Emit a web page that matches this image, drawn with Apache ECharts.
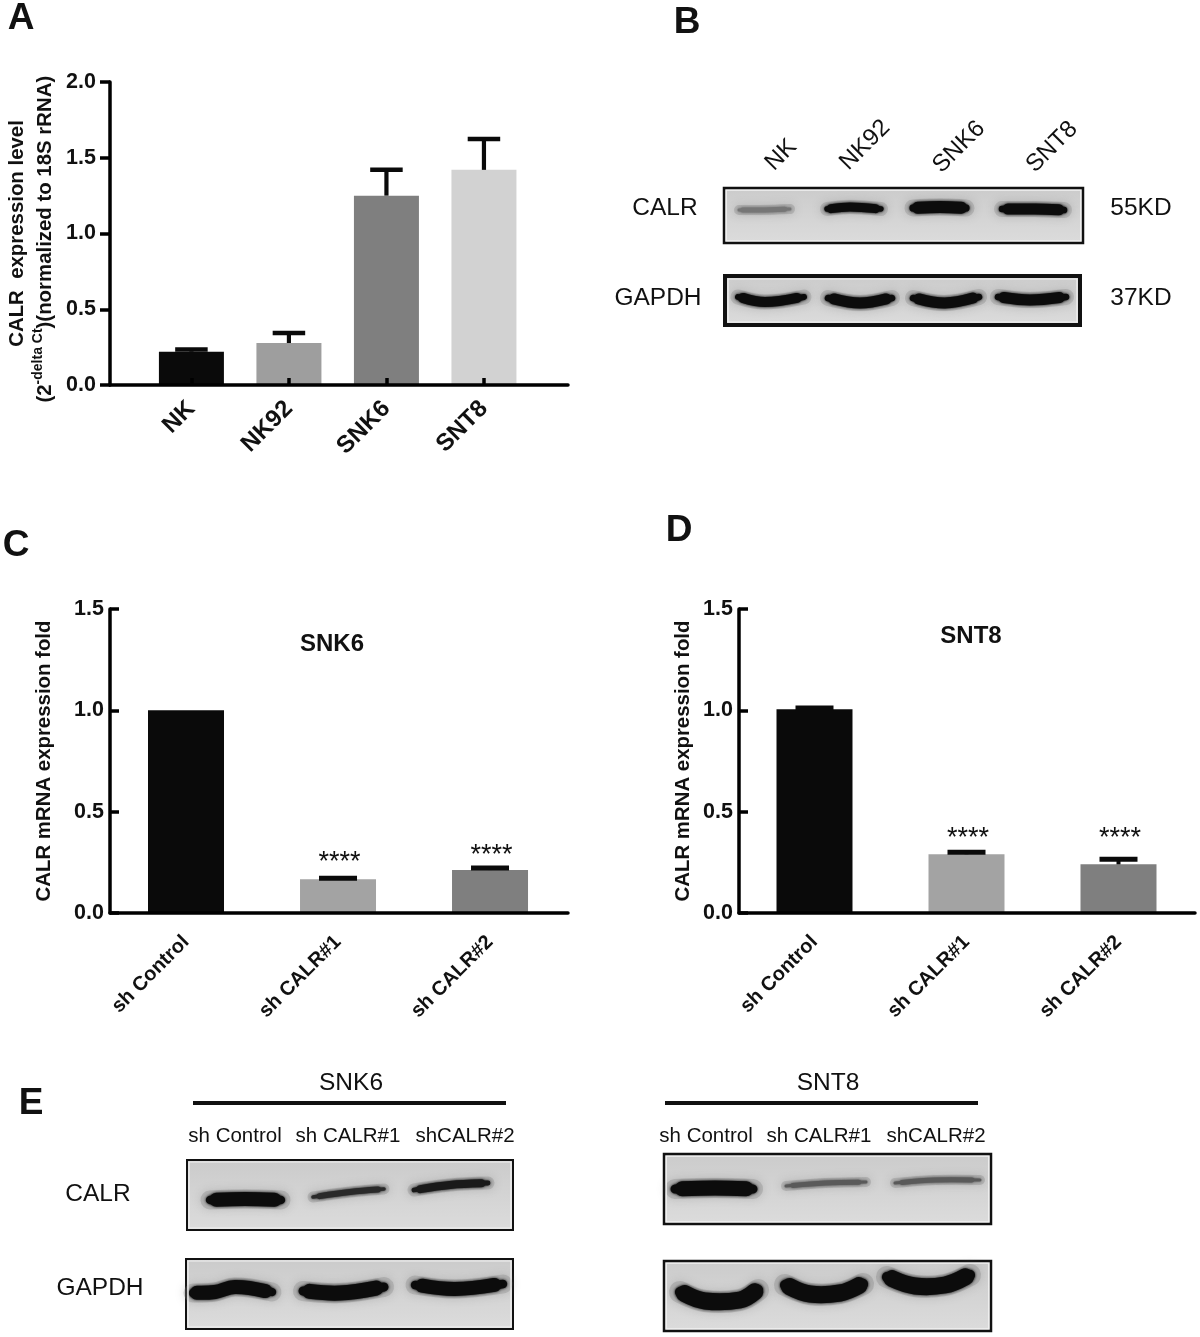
<!DOCTYPE html>
<html><head><meta charset="utf-8">
<style>html,body{margin:0;padding:0;background:#fff}#c{width:1200px;height:1337px}</style>
<script src="https://cdn.jsdelivr.net/npm/echarts@6/dist/echarts.min.js"></script>
</head><body><div id="c"></div>
<script>
// ---- data ----
const categoriesA = ['NK','NK92','SNK6','SNT8'];
const valuesA = [0.22,0.277,1.25,1.42];
const errTopA = [0.235,0.343,1.42,1.624];
const yTicksA = {min:0,max:2,interval:0.5};

const categoriesCD = ['sh Control','sh CALR#1','sh CALR#2'];
const valuesC = [1.0,0.167,0.212];
const errTopC = [1.0,0.172,0.222];
const starsC = ['','****','****'];
const starLevelC = [0,0.278,0.312];
const valuesD = [1.005,0.29,0.24];
const errTopD = [1.012,0.3,0.265];
const starsD = ['','****','****'];
const starLevelD = [0,0.398,0.398];
const yTicksCD = {min:0,max:1.5,interval:0.5};

// ---- styles ----
const FONT = '"Liberation Sans", Arial, sans-serif';
const barColorsA = ['#0a0a0a','#9e9e9e','#7f7f7f','#d2d2d2'];
const barColorsCD = ['#0a0a0a','#a3a3a3','#7f7f7f'];

// ---- panels ----
const grids = [
  {left:110,top:82,width:458,height:303},
  {left:110,top:609,width:458,height:304},
  {left:739,top:609,width:456,height:304}
];
const xDomains = [
  {min:0.165,max:4.862},
  {min:0.5,max:3.513},
  {min:0.5033,max:3.5033}
];

function yAxis(idx,t,name,nameGap,inside,margin){
  return {type:'value',gridIndex:idx,min:t.min,max:t.max,interval:t.interval,
    splitLine:{show:false},
    axisLine:{show:true,lineStyle:{color:'#000',width:3.5}},
    axisTick:{show:true,inside:inside,length:inside?9:10,lineStyle:{color:'#000',width:3.5}},
    axisLabel:{color:'#111',fontFamily:FONT,fontWeight:'bold',fontSize:21.5,margin:margin,
      formatter:v=>v.toFixed(1)},
    name:name,nameLocation:'middle',nameRotate:90,nameGap:nameGap,
    nameTextStyle:{color:'#111',fontFamily:FONT,fontWeight:'bold',fontSize:20.4,lineHeight:28,
      rich:{
        a:{fontFamily:FONT,fontWeight:'bold',fontSize:20.4,color:'#111',lineHeight:28},
        sup:{fontFamily:FONT,fontWeight:'bold',fontSize:14,color:'#111',verticalAlign:'top',lineHeight:28}
      }}
  };
}
function xAxis(idx,dom,cats,fs,margin,tick){
  const vals = cats.map((c,i)=>i+1);
  return {type:'value',gridIndex:idx,min:dom.min,max:dom.max,z:5,
    splitLine:{show:false},
    axisLine:{show:true,onZero:false,lineStyle:{color:'#000',width:3.5}},
    axisTick:{show:tick,inside:true,length:7,customValues:vals,lineStyle:{color:'#000',width:3.5}},
    axisLabel:{customValues:vals,rotate:45,margin:margin,color:'#111',fontFamily:FONT,fontWeight:'bold',fontSize:fs,
      formatter:v=>cats[Math.round(v)-1]||''}
  };
}
function barSeries(idx,vals,colors,width){
  return {type:'bar',xAxisIndex:idx,yAxisIndex:idx,barWidth:width,z:2,silent:true,
    data:vals.map((v,i)=>[i+1,v]),
    itemStyle:{color:p=>colors[p.dataIndex]}};
}
function errSeries(idx,tops,vals,capW,capH,stemW){
  return {type:'custom',xAxisIndex:idx,yAxisIndex:idx,z:3,silent:true,clip:false,
    data:tops.map((t,i)=>[i+1,t,vals[i]]),
    renderItem:(p,api)=>{
      const x=api.value(0),top=api.coord([x,api.value(1)]),base=api.coord([x,api.value(2)]);
      if(api.value(1)<=api.value(2)) return {type:'group',children:[]};
      return {type:'group',children:[
        {type:'rect',shape:{x:top[0]-stemW/2,y:top[1],width:stemW,height:base[1]-top[1]},style:{fill:'#0a0a0a'}},
        {type:'rect',shape:{x:top[0]-capW/2,y:top[1]-capH/2,width:capW,height:capH},style:{fill:'#0a0a0a'}}
      ]};
    }};
}
function starSeries(idx,levels,stars){
  return {type:'custom',xAxisIndex:idx,yAxisIndex:idx,z:4,silent:true,clip:false,
    data:levels.map((l,i)=>[i+1,l]),
    renderItem:(p,api)=>{
      const c=api.coord([api.value(0),api.value(1)]);
      return {type:'text',style:{text:stars[p.dataIndex],x:c[0]+1.5,y:c[1]+6,align:'center',verticalAlign:'middle',
        font:'27px '+FONT,fill:'#111'}};
    }};
}

// ---- blot drawing (image panels, not data) ----
const g=[];
function txt(text,x,y,size,opt){
  opt=opt||{};
  g.push({type:'text',x:x,y:y,rotation:opt.rot||0,z:20,style:{text:text,align:opt.align||'center',verticalAlign:'middle',
    font:(opt.bold?'bold ':'')+size+'px '+FONT,fill:'#111'}});
}
function frame(x0,y0,x1,y1,bw){
  const inset=bw/2+1;
  g.push({type:'rect',z:10,shape:{x:x0,y:y0,width:x1-x0,height:y1-y0},
    style:{fill:{type:'linear',x:0,y:0,x2:0,y2:1,colorStops:[{offset:0,color:'#cbcbcb'},{offset:1,color:'#dcdcdc'}]},stroke:'#111',lineWidth:bw}});
  g.push({type:'rect',z:13,shape:{x:x0+inset,y:y0+inset,width:x1-x0-2*inset,height:y1-y0-2*inset},
    style:{fill:null,stroke:'#f2f2f2',lineWidth:1.2}});
}
function trim(points,f){
  const p=points.map(q=>q.slice()),n=p.length;
  p[0]=[p[0][0]+(p[1][0]-p[0][0])*f,p[0][1]+(p[1][1]-p[0][1])*f];
  p[n-1]=[p[n-1][0]+(p[n-2][0]-p[n-1][0])*f,p[n-1][1]+(p[n-2][1]-p[n-1][1])*f];
  return p;
}
function stroke(points,w,color,blur,op){
  g.push({type:'polyline',z:11,shape:{points:points,smooth:0.4},
    style:{fill:null,stroke:color,lineWidth:w,lineCap:'round',lineJoin:'round',opacity:op===undefined?1:op,
      shadowBlur:blur,shadowColor:color}});
}
function band(points,w,color){
  color=color||'#0c0c0c';
  stroke(points,w+5,'#777',9,0.28);
  stroke(points,w*0.6,color,3);
  stroke(trim(points,0.18),w,color,3);
}
const ROT=Math.PI/4;
// B
txt('NK',781,155,24,{rot:ROT});txt('NK92',865,145,24,{rot:ROT});txt('SNK6',959,147,24,{rot:ROT});txt('SNT8',1052,147,24,{rot:ROT});
txt('CALR',665,208,24.5);txt('55KD',1141,208,24.5);txt('GAPDH',658,298,24.5);txt('37KD',1141,298,24.5);
frame(724,188,1083,243,2.5);
band([[739,210],[760,210],[790,209]],5,'#767676');
band([[827,209],[850,207],[881,209]],9);
band([[913,208],[940,207],[966,208]],12);
band([[1002,209],[1035,209],[1064,210]],11);
frame(725,276,1080,325,4);
band([[738,297],[765,302],[804,297]],10);
band([[828,298],[860,303],[892,298]],11);
band([[913,298],[945,303],[979,297]],11);
band([[998,297],[1030,300],[1066,297]],11);
// E left
txt('SNK6',351,1083,24.5);
g.push({type:'rect',z:11,shape:{x:193,y:1101,width:313,height:4},style:{fill:'#111'}});
txt('sh Control',235,1136,20.5);txt('sh CALR#1',348,1136,20.5);txt('shCALR#2',465,1136,20.5);
txt('CALR',98,1194,24.5);txt('GAPDH',100,1288,24.5);
frame(187,1160,513,1230,2);
band([[210,1200],[245,1199],[281,1200]],14);
band([[313,1197],[350,1192],[384,1189]],6,'#2a2a2a');
band([[414,1190],[450,1185],[488,1183]],8,'#1a1a1a');
frame(186,1259,513,1329,2);
band([[193,1293],[215,1292],[235,1287],[272,1292]],14);
band([[303,1291],[340,1293],[384,1287]],15);
band([[415,1285],[455,1289],[503,1284]],14);
// E right
txt('SNT8',828,1083,24.5);
g.push({type:'rect',z:11,shape:{x:665,y:1101,width:313,height:4},style:{fill:'#111'}});
txt('sh Control',706,1136,20.5);txt('sh CALR#1',819,1136,20.5);txt('shCALR#2',936,1136,20.5);
frame(664,1154,991,1224,2.5);
band([[675,1189],[715,1188],[753,1189]],15);
band([[786,1186],[825,1183],[866,1182]],5,'#5a5a5a');
band([[895,1183],[935,1180],[980,1180]],5,'#5a5a5a');
frame(664,1261,991,1331,2.5);
band([[680,1292],[705,1301],[740,1300],[758,1290]],17);
band([[785,1285],[810,1294],[840,1293],[863,1284]],17);
band([[887,1277],[915,1286],[945,1285],[970,1275]],17);
// titles and panel letters
txt('SNK6',332,644,24,{bold:true});txt('SNT8',971,636,24,{bold:true});
txt('A',21,19,37,{bold:true});txt('B',687,23,37,{bold:true});txt('C',16,546,37,{bold:true});
txt('D',679,531,37,{bold:true});txt('E',31,1104,37,{bold:true});

const option={
  animation:false,backgroundColor:'#fff',
  grid:grids,
  xAxis:[
    xAxis(0,xDomains[0],categoriesA,24,20,true),
    xAxis(1,xDomains[1],categoriesCD,20,26,false),
    xAxis(2,xDomains[2],categoriesCD,20,26,false)
  ],
  yAxis:[
    yAxis(0,yTicksA,'{a|CALR  expression level}\n{a|(2}{sup|-delta Ct}{a|)(normalized to 18S rRNA)  }',51,false,14),
    yAxis(1,yTicksCD,'CALR mRNA expression fold',52,true,6),
    yAxis(2,yTicksCD,'CALR mRNA expression fold',42,true,6)
  ],
  series:[
    barSeries(0,valuesA,barColorsA,65),
    errSeries(0,errTopA,valuesA,32.5,4.5,4.2),
    barSeries(1,valuesC,barColorsCD,76),
    errSeries(1,errTopC,valuesC,38,5,4),
    starSeries(1,starLevelC,starsC),
    barSeries(2,valuesD,barColorsCD,76),
    errSeries(2,errTopD,valuesD,38,5,4),
    starSeries(2,starLevelD,starsD)
  ],
  graphic:{elements:g}
};
echarts.init(document.getElementById('c')).setOption(option);
</script></body></html>
